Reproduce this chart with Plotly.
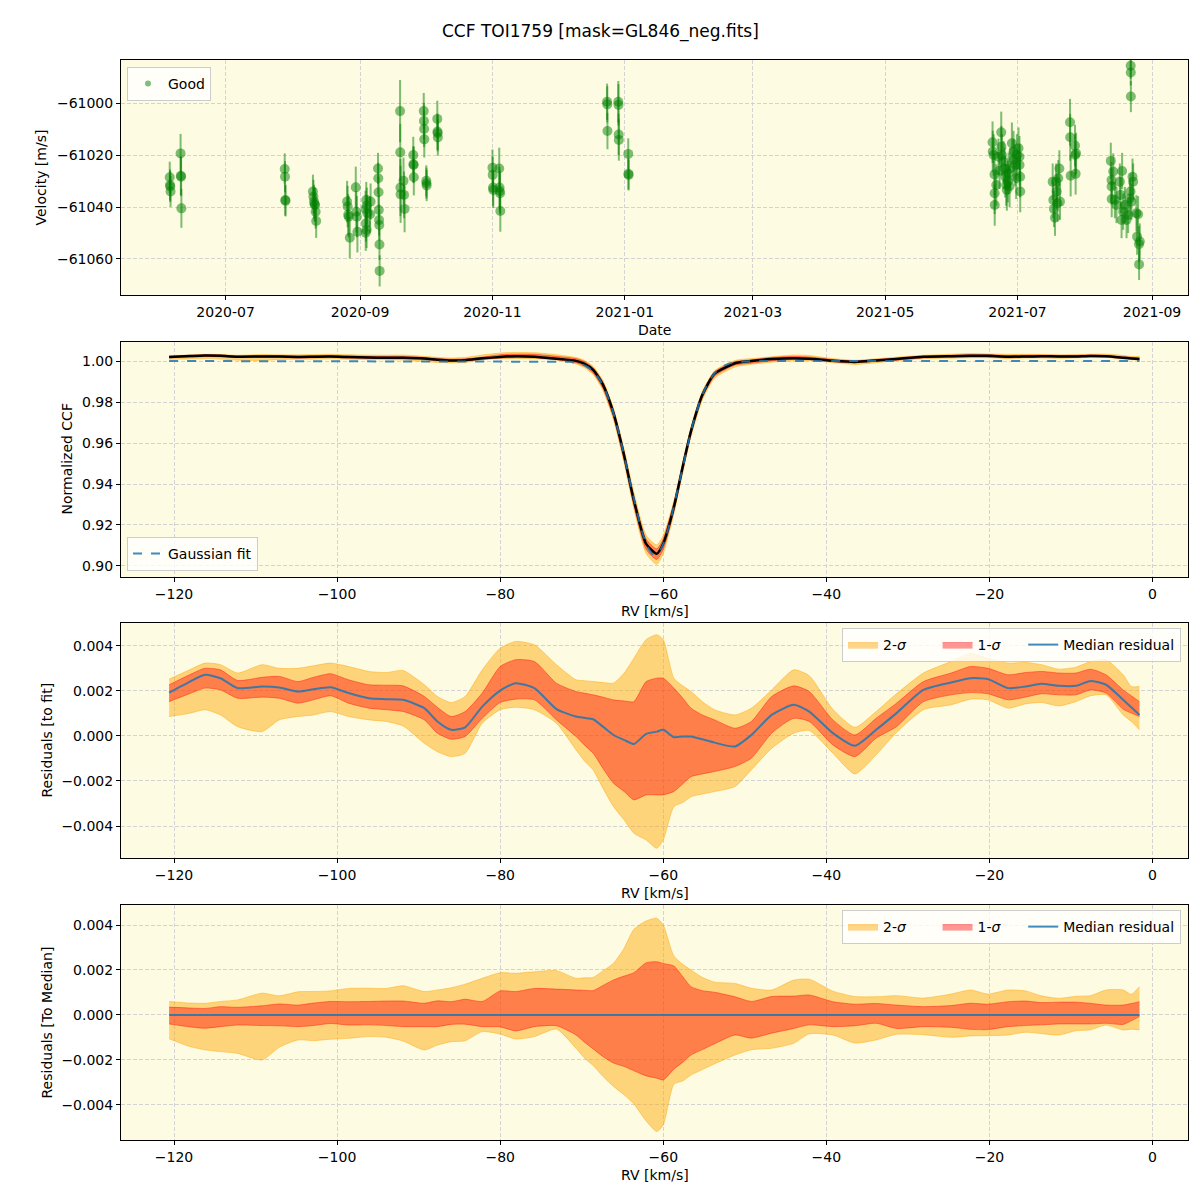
import numpy as np
import plotly.graph_objects as go
from plotly.subplots import make_subplots

# ---------------- Panel 1 : RV time series ----------------
obs_dates = [
    "2020-06-05 06:00", "2020-06-05 09:00", "2020-06-05 12:00", "2020-06-05 15:00",
    "2020-06-10 06:00", "2020-06-10 09:00", "2020-06-10 12:00", "2020-06-10 15:00",
    "2020-07-28 06:00", "2020-07-28 09:00", "2020-07-28 12:00", "2020-07-28 15:00",
    "2020-08-10 06:00", "2020-08-10 12:00", "2020-08-10 18:00", "2020-08-11 00:00",
    "2020-08-11 06:00", "2020-08-11 12:00", "2020-08-11 18:00",
    "2020-08-26 00:00", "2020-08-26 06:00", "2020-08-26 12:00", "2020-08-26 18:00",
    "2020-08-27 06:00", "2020-08-30 00:00", "2020-08-30 06:00", "2020-08-30 12:00",
    "2020-08-30 18:00",
    "2020-09-03 12:00", "2020-09-03 20:00", "2020-09-04 02:00", "2020-09-04 08:00",
    "2020-09-03 16:00", "2020-09-04 00:00", "2020-09-03 14:00", "2020-09-05 20:00",
    "2020-09-05 14:00",
    "2020-09-09 06:00", "2020-09-09 09:00", "2020-09-09 12:00", "2020-09-09 15:00",
    "2020-09-09 18:00", "2020-09-09 20:00", "2020-09-09 22:00", "2020-09-10 00:00",
    "2020-09-19 10:00", "2020-09-19 12:00", "2020-09-19 14:00", "2020-09-19 16:00",
    "2020-09-21 00:00", "2020-09-21 06:00", "2020-09-21 12:00",
    "2020-09-25 12:00", "2020-09-25 14:00", "2020-09-25 16:00", "2020-09-25 18:00",
    "2020-09-30 08:00", "2020-09-30 10:00", "2020-09-30 12:00", "2020-09-30 14:00",
    "2020-10-01 12:00", "2020-10-01 14:00", "2020-10-01 16:00",
    "2020-10-06 14:00", "2020-10-06 16:00", "2020-10-06 18:00", "2020-10-06 20:00",
    "2020-11-01 00:00", "2020-11-01 03:00", "2020-11-01 06:00", "2020-11-01 09:00",
    "2020-11-04 03:00", "2020-11-04 06:00", "2020-11-04 09:00", "2020-11-04 12:00",
    "2020-11-04 15:00",
    "2020-12-23 20:00", "2020-12-23 22:00", "2020-12-24 00:00",
    "2020-12-29 00:00", "2020-12-29 02:00", "2020-12-29 04:00", "2020-12-29 06:00",
    "2021-01-02 14:00", "2021-01-02 16:00", "2021-01-02 18:00",
    "2021-06-19 12:00", "2021-06-19 14:00", "2021-06-20 00:00", "2021-06-20 10:00",
    "2021-06-20 11:00", "2021-06-20 12:00", "2021-06-21 05:00", "2021-06-22 06:00",
    "2021-06-22 17:00", "2021-06-23 12:00", "2021-06-23 14:00", "2021-06-23 19:00",
    "2021-06-24 14:00", "2021-06-25 01:00", "2021-06-25 08:00", "2021-06-25 19:00",
    "2021-06-26 02:00", "2021-06-26 13:00", "2021-06-26 21:00", "2021-06-27 08:00",
    "2021-06-27 15:00", "2021-06-28 10:00", "2021-06-29 04:00", "2021-06-29 06:00",
    "2021-06-29 22:00", "2021-06-30 09:00", "2021-06-30 17:00", "2021-07-01 11:00",
    "2021-07-01 22:00", "2021-07-01 23:00", "2021-07-02 05:00", "2021-07-02 06:00",
    "2021-07-17 05:00", "2021-07-17 12:00", "2021-07-17 19:00", "2021-07-18 07:00",
    "2021-07-18 19:00", "2021-07-19 02:00", "2021-07-19 09:00", "2021-07-19 19:00",
    "2021-07-20 07:00", "2021-07-20 14:00",
    "2021-07-25 05:00", "2021-07-25 07:00", "2021-07-25 12:00", "2021-07-27 12:00",
    "2021-07-27 14:00", "2021-07-27 19:00", "2021-07-28 00:00",
    "2021-08-13 00:00", "2021-08-13 08:00", "2021-08-13 09:00", "2021-08-13 10:00",
    "2021-08-14 03:00", "2021-08-14 21:00", "2021-08-15 15:00", "2021-08-17 04:00",
    "2021-08-17 12:00", "2021-08-17 23:00", "2021-08-18 05:00", "2021-08-18 17:00",
    "2021-08-19 12:00", "2021-08-20 06:00", "2021-08-21 00:00", "2021-08-21 19:00",
    "2021-08-22 02:00", "2021-08-22 12:00", "2021-08-23 00:00", "2021-08-23 07:00",
    "2021-08-24 19:00", "2021-08-25 14:00", "2021-08-25 03:00", "2021-08-26 00:00",
    "2021-08-26 09:00", "2021-08-26 01:00",
    "2021-08-22 04:00", "2021-08-22 05:00", "2021-08-22 06:00",
]
obs_vel = [
    -61028.5, -61031.5, -61032.1, -61034.0,
    -61019.3, -61027.9, -61028.3, -61040.5,
    -61025.3, -61028.3, -61037.3, -61037.6,
    -61034.0, -61036.0, -61037.9, -61038.9,
    -61039.2, -61041.8, -61045.4,
    -61037.9, -61039.8, -61043.0, -61043.7,
    -61051.8, -61032.4, -61041.8, -61043.7,
    -61049.5,
    -61040.7, -61037.3, -61039.5, -61042.4,
    -61046.3, -61048.8, -61049.9, -61037.9,
    -61042.8,
    -61025.1, -61028.9, -61034.3, -61041.1,
    -61045.0, -61046.9, -61054.4, -61064.6,
    -61003.0, -61018.9, -61032.5, -61035.1,
    -61029.9, -61035.3, -61040.7,
    -61019.9, -61023.5, -61023.8, -61028.5,
    -61003.0, -61006.8, -61009.9, -61013.9,
    -61029.9, -61030.8, -61031.7,
    -61006.0, -61010.9, -61011.5, -61013.2,
    -61024.8, -61027.6, -61032.5, -61033.4,
    -61025.1, -61032.5, -61033.8, -61034.7,
    -61041.5,
    -60999.4, -61000.4, -61010.7,
    -60999.4, -61000.6, -61012.0, -61014.1,
    -61019.5, -61027.2, -61027.6,
    -61015.0, -61018.6, -61019.9, -61027.4,
    -61034.7, -61039.2, -61031.5, -61020.6,
    -61026.0, -61011.2, -61016.7, -61019.9,
    -61022.5, -61025.1, -61028.3, -61031.5,
    -61033.4, -61030.2, -61027.0, -61032.0,
    -61025.1, -61015.4, -61018.6, -61021.8,
    -61023.8, -61028.9, -61019.9, -61017.3,
    -61020.6, -61023.8, -61028.3, -61034.0,
    -61030.2, -61037.3, -61040.7, -61044.1,
    -61030.2, -61034.0, -61038.5, -61028.9,
    -61025.1, -61037.9,
    -61007.3, -61013.1, -61027.9, -61016.3,
    -61019.9, -61027.2, -61019.3,
    -61022.2, -61029.6, -61032.1, -61036.9,
    -61026.3, -61037.3, -61039.2, -61030.2,
    -61035.3, -61045.0, -61026.1, -61041.8,
    -61039.2, -61045.0, -61043.0, -61036.6,
    -61034.0, -61037.9, -61028.3, -61030.2,
    -61042.4, -61042.8, -61051.4, -61054.3,
    -61053.3, -61062.1,
    -60985.5, -60988.1, -60997.4,
]
obs_err = [
    6, 6, 6, 6,
    7.5, 7.5, 7.5, 7.5,
    6, 6, 6, 6,
    6.5, 6.5, 6.5, 6.5,
    6.5, 6.5, 6.5,
    8, 8, 8, 8,
    8, 8, 8, 8,
    8,
    7, 7, 7, 7,
    7, 7, 7, 7,
    7,
    6, 6, 6, 6,
    6, 6, 6, 6,
    12, 11, 11, 11,
    9, 9, 9,
    7, 7, 7, 7,
    7, 7, 7, 7,
    6, 6, 6,
    7, 7, 7, 7,
    7, 7, 7, 7,
    8, 8, 8, 8,
    8,
    7, 7, 7,
    8, 8, 8, 8,
    6, 6, 6,
    8, 8, 8, 8,
    8, 8, 8, 7,
    7, 8, 8, 8,
    8, 8, 8, 8,
    8, 8, 8, 8,
    8, 8, 8, 8,
    8, 8, 8, 8,
    8, 8, 8, 8,
    7, 7, 7, 7,
    7, 7, 7, 7,
    7, 7,
    9, 9, 8, 8,
    8, 8, 8,
    7, 7, 7, 7,
    7, 7, 7, 7,
    7, 7, 7, 7,
    7, 7, 7, 7,
    7, 7, 7, 7,
    7, 7, 7, 7,
    7, 6,
    5, 5, 6,
]

# ---------------- CCF residual statistics (panels 2-4) ----------------
rv = [-120.6, -118.1, -116.2, -114.3, -112.2, -109.2, -107.1, -104.8, -102.9, -100.8,
      -98.6, -96.1, -94.0, -91.9, -89.3, -87.7, -86.0, -84.3, -82.2, -80.0,
      -78.1, -75.8, -73.1, -70.7, -69.7, -68.6, -67.4, -66.1, -64.8, -63.6,
      -62.1, -60.8, -60.0, -58.7, -57.6, -56.6, -55.2, -53.7, -51.2, -49.2,
      -46.7, -44.0, -42.1, -39.2, -36.5, -33.9, -31.4, -28.1, -24.7, -22.3,
      -20.2, -17.7, -15.6, -13.6, -11.5, -9.4, -7.6, -5.7, -3.6, -2.6, -1.6]
res_median = [0.00192, 0.0024, 0.00271, 0.00256, 0.00212, 0.00219, 0.00215, 0.00197, 0.00207, 0.00216,
              0.0019, 0.00167, 0.00163, 0.0016, 0.00123, 0.00064, 0.00027, 0.00038, 0.0013, 0.00201,
              0.00234, 0.00212, 0.00119, 0.00086, 0.0008, 0.00074, 0.00041, 0.00004, -0.00018, -0.00036,
              0.00009, 0.00019, 0.00027, -0.00006, -0.00003, -0.00003, -0.00015, -0.0003, -0.00047, 0.00004,
              0.00093, 0.00138, 0.00108, 0.00012, -0.00044, 0.00027, 0.00101, 0.00204, 0.00237, 0.00256,
              0.00252, 0.00212, 0.00219, 0.00231, 0.00222, 0.00222, 0.00244, 0.00227, 0.0016, 0.00127, 0.00093]
res_1s_lo = [0.00152, 0.00187, 0.00212, 0.00204, 0.00167, 0.00172, 0.00167, 0.00145, 0.0016, 0.00178,
             0.00145, 0.00123, 0.00116, 0.00108, 0.00071, 0.00012, -0.00015, -0.00003, 0.00078, 0.00148,
             0.00163, 0.0016, 0.00071, -0.00003, -0.0004, -0.00077, -0.00144, -0.0021, -0.00247, -0.00284,
             -0.00262, -0.00262, -0.00262, -0.00247, -0.00213, -0.00181, -0.00169, -0.00158, -0.00136, -0.00099,
             0.00012, 0.00078, 0.00064, -0.0004, -0.00092, -0.0001, 0.00041, 0.00152, 0.00182, 0.00192,
             0.00187, 0.0016, 0.00172, 0.00187, 0.00182, 0.00182, 0.00204, 0.0019, 0.00118, 0.00101, 0.00086]
res_1s_hi = [0.00227, 0.00271, 0.003, 0.00293, 0.00246, 0.0026, 0.00264, 0.00241, 0.0026, 0.00276,
             0.00249, 0.00227, 0.00225, 0.00222, 0.00175, 0.00127, 0.00086, 0.00108, 0.0019, 0.00308,
             0.00338, 0.0033, 0.00234, 0.00197, 0.0019, 0.00182, 0.00172, 0.0016, 0.00155, 0.00152,
             0.00241, 0.00256, 0.00256, 0.00212, 0.00167, 0.00123, 0.00093, 0.00071, 0.00034, 0.00064,
             0.00175, 0.00222, 0.00197, 0.00071, 0.00004, 0.00078, 0.00145, 0.00241, 0.00279, 0.00308,
             0.003, 0.00271, 0.00281, 0.00286, 0.00279, 0.00279, 0.00296, 0.00271, 0.00204, 0.00178, 0.00152]
res_2s_lo = [0.00086, 0.001, 0.00116, 0.00093, 0.00041, 0.00019, 0.00071, 0.00086, 0.00093, 0.00108,
             0.00086, 0.00071, 0.00064, 0.00044, -0.00033, -0.0007, -0.00092, -0.00077, 0.00056, 0.00116,
             0.00127, 0.00116, 0.00056, -0.00062, -0.0011, -0.00151, -0.00232, -0.00314, -0.00373, -0.00432,
             -0.00462, -0.00499, -0.00462, -0.00314, -0.00296, -0.0027, -0.00258, -0.00247, -0.00225, -0.00151,
             -0.00055, 0.00012, 0.00024, -0.00077, -0.00169, -0.00084, 0.00015, 0.00116, 0.00138, 0.00163,
             0.0016, 0.00123, 0.00142, 0.00148, 0.00133, 0.00152, 0.00178, 0.00182, 0.00093, 0.00064, 0.00027]
res_2s_hi = [0.00252, 0.00293, 0.00323, 0.00316, 0.00279, 0.00316, 0.003, 0.003, 0.00311, 0.00323,
             0.00308, 0.00286, 0.00281, 0.0029, 0.00227, 0.00175, 0.00148, 0.00175, 0.00293, 0.00389,
             0.00419, 0.00404, 0.00316, 0.00249, 0.00245, 0.00241, 0.00237, 0.00234, 0.00279, 0.00345,
             0.00427, 0.00449, 0.00427, 0.00256, 0.00222, 0.00197, 0.00152, 0.00116, 0.00093, 0.00123,
             0.00204, 0.00293, 0.00267, 0.00118, 0.00038, 0.00108, 0.00187, 0.00279, 0.0033, 0.00367,
             0.00345, 0.00323, 0.00326, 0.00316, 0.00296, 0.00305, 0.0033, 0.00338, 0.00271, 0.00219, 0.00219]

# Gaussian fit parameters
FIT_CONT = 1.0
FIT_DEPTH = 0.0945
FIT_CENTER = -61.05
FIT_SIGMA = 3.12

# tick labels
p1_yticks = [-61060, -61040, -61020, -61000]
p1_yticktext = ["\u221261060", "\u221261040", "\u221261020", "\u221261000"]
p1_xticks = ["2020-07-01", "2020-09-01", "2020-11-01", "2021-01-01", "2021-03-01",
             "2021-05-01", "2021-07-01", "2021-09-01"]
p1_xticktext = ["2020-07", "2020-09", "2020-11", "2021-01", "2021-03", "2021-05", "2021-07", "2021-09"]
rv_ticks = [-120, -100, -80, -60, -40, -20, 0]
rv_ticktext = ["\u2212120", "\u2212100", "\u221280", "\u221260", "\u221240", "\u221220", "0"]
ccf_ticks = [0.90, 0.92, 0.94, 0.96, 0.98, 1.00]
ccf_ticktext = ["0.90", "0.92", "0.94", "0.96", "0.98", "1.00"]
res_ticks = [-0.004, -0.002, 0.0, 0.002, 0.004]
res_ticktext = ["\u22120.004", "\u22120.002", "0.000", "0.002", "0.004"]

# ---------------- derived arrays ----------------
rv_a = np.array(rv)
med = np.array(res_median)
s1lo, s1hi = np.array(res_1s_lo), np.array(res_1s_hi)
s2lo, s2hi = np.array(res_2s_lo), np.array(res_2s_hi)


def gauss_fit(x):
    x = np.asarray(x, dtype=float)
    return FIT_CONT - FIT_DEPTH * np.exp(-0.5 * ((x - FIT_CENTER) / FIT_SIGMA) ** 2)


fit_on_grid = gauss_fit(rv_a)
rv_fine = np.linspace(rv_a[0], rv_a[-1], 800)
fit_fine = gauss_fit(rv_fine)

C2 = "rgba(255,165,0,0.45)"
C1 = "rgba(255,0,0,0.40)"
BLUE = "rgba(31,119,180,0.85)"
FONT = "DejaVu Sans"
NB = "\u00a0"

# page geometry: the page body has an 8px margin
OFF = 8
W = 1192


def fx(p):
    return (p - OFF) / W


def fy(p):
    return 1 - (p - OFF) / W


fig = make_subplots(rows=4, cols=1)

# ---- panel 1
fig.add_trace(go.Scatter(
    x=obs_dates, y=obs_vel, mode="markers",
    marker=dict(size=10, color="rgba(0,128,0,0.5)", line=dict(width=0)),
    error_y=dict(type="data", array=obs_err, color="rgba(0,128,0,0.5)", thickness=2, width=0),
    showlegend=False, hoverinfo="x+y"), row=1, col=1)
fig.add_trace(go.Scatter(
    x=[None], y=[None], mode="markers", name="Good",
    marker=dict(size=6, color="rgba(0,128,0,0.5)"), legend="legend"), row=1, col=1)


def add_bands(row, x, lo2, hi2, lo1, hi1, legend, show):
    kw = dict(mode="lines", line_shape="spline")
    fig.add_trace(go.Scatter(x=x, y=lo2, line=dict(color=C2, width=1, smoothing=0.6),
                             showlegend=False, hoverinfo="skip", **kw), row=row, col=1)
    fig.add_trace(go.Scatter(x=x, y=hi2, line=dict(color=C2, width=1, smoothing=0.6),
                             fill="tonexty", fillcolor=C2, name="2-<i>\u03c3</i>" + NB * 6,
                             showlegend=show, legend=legend, hoverinfo="skip", **kw), row=row, col=1)
    fig.add_trace(go.Scatter(x=x, y=lo1, line=dict(color=C1, width=1, smoothing=0.6),
                             showlegend=False, hoverinfo="skip", **kw), row=row, col=1)
    fig.add_trace(go.Scatter(x=x, y=hi1, line=dict(color=C1, width=1, smoothing=0.6),
                             fill="tonexty", fillcolor=C1, name="1-<i>\u03c3</i>" + NB * 4,
                             showlegend=show, legend=legend, hoverinfo="skip", **kw), row=row, col=1)


# ---- panel 2
add_bands(2, rv, fit_on_grid + s2lo, fit_on_grid + s2hi, fit_on_grid + s1lo, fit_on_grid + s1hi,
          "legend2", False)
fig.add_trace(go.Scatter(x=rv, y=fit_on_grid + med, mode="lines", line_shape="spline",
                         line=dict(color="black", width=2.5, smoothing=0.6), showlegend=False),
              row=2, col=1)
fig.add_trace(go.Scatter(x=rv_fine, y=fit_fine, mode="lines", name="Gaussian fit",
                         line=dict(color=BLUE, width=2, dash="dash"), legend="legend2"),
              row=2, col=1)

# ---- panel 3
add_bands(3, rv, s2lo, s2hi, s1lo, s1hi, "legend3", True)
fig.add_trace(go.Scatter(x=rv, y=med, mode="lines", line_shape="spline", name="Median residual",
                         line=dict(color=BLUE, width=2, smoothing=0.6), legend="legend3"), row=3, col=1)

# ---- panel 4
add_bands(4, rv, s2lo - med, s2hi - med, s1lo - med, s1hi - med, "legend4", True)
fig.add_trace(go.Scatter(x=rv, y=med - med, mode="lines", name="Median residual",
                         line=dict(color=BLUE, width=2), legend="legend4"), row=4, col=1)

axis_common = dict(showline=True, mirror=True, linecolor="black", linewidth=1,
                   ticks="outside", ticklen=4, tickwidth=1, tickcolor="black",
                   showgrid=True, gridcolor="#d3d3d3", griddash="4px,2px", gridwidth=1,
                   zeroline=False, tickfont=dict(size=14, color="black", family=FONT))

XD = [fx(121), fx(1188)]


def ydom(top, bot):
    return [fy(bot), fy(top)]


fig.update_layout(
    xaxis=dict(domain=XD, type="date", range=["2020-05-13 19:00", "2021-09-17 14:00"],
               tickvals=p1_xticks, ticktext=p1_xticktext, **axis_common),
    yaxis=dict(domain=ydom(60, 295), range=[-61073.9, -60983.3],
               tickvals=p1_yticks, ticktext=p1_yticktext, **axis_common),
    xaxis2=dict(domain=XD, range=[-126.5, 4.35], tickvals=rv_ticks, ticktext=rv_ticktext, **axis_common),
    yaxis2=dict(domain=ydom(342, 577), range=[0.89463, 1.00927],
                tickvals=ccf_ticks, ticktext=ccf_ticktext, **axis_common),
    xaxis3=dict(domain=XD, range=[-126.5, 4.35], tickvals=rv_ticks, ticktext=rv_ticktext, **axis_common),
    yaxis3=dict(domain=ydom(623, 858), range=[-0.00542, 0.00501],
                tickvals=res_ticks, ticktext=res_ticktext, **axis_common),
    xaxis4=dict(domain=XD, range=[-126.5, 4.35], tickvals=rv_ticks, ticktext=rv_ticktext, **axis_common),
    yaxis4=dict(domain=ydom(905, 1140), range=[-0.00556, 0.00489],
                tickvals=res_ticks, ticktext=res_ticktext, **axis_common),
)

legend_common = dict(bgcolor="rgba(255,255,255,0.8)", bordercolor="#cccccc", borderwidth=1,
                     font=dict(size=14, color="black", family=FONT), traceorder="normal")
fig.update_layout(
    legend=dict(x=fx(127), y=fy(67), xanchor="left", yanchor="top", **legend_common),
    legend2=dict(x=fx(127), y=fy(571), xanchor="left", yanchor="bottom", **legend_common),
    legend3=dict(x=fx(1181), y=fy(628), xanchor="right", yanchor="top",
                 orientation="h", **legend_common),
    legend4=dict(x=fx(1181), y=fy(910), xanchor="right", yanchor="top",
                 orientation="h", **legend_common),
)

annos = [
    dict(text="CCF TOI1759 [mask=GL846_neg.fits]", x=600, y=32, size=17, angle=0),
    dict(text="Velocity [m/s]", x=41, y=177.5, size=14, angle=-90),
    dict(text="Date", x=654.5, y=330, size=14, angle=0),
    dict(text="Normalized CCF", x=66, y=459.5, size=14, angle=-90),
    dict(text="RV [km/s]", x=654.5, y=611, size=14, angle=0),
    dict(text="Residuals [to fit]", x=46, y=740.5, size=14, angle=-90),
    dict(text="RV [km/s]", x=654.5, y=893, size=14, angle=0),
    dict(text="Residuals [To Median]", x=46, y=1022.5, size=14, angle=-90),
    dict(text="RV [km/s]", x=654.5, y=1175, size=14, angle=0),
]
for a in annos:
    fig.add_annotation(text=a["text"], x=fx(a["x"]), y=fy(a["y"]), xref="paper", yref="paper",
                       xanchor="center", yanchor="middle", showarrow=False, textangle=a["angle"],
                       font=dict(size=a["size"], color="black", family=FONT))

fig.update_layout(width=W, height=W, margin=dict(l=0, r=0, t=0, b=0),
                  paper_bgcolor="white", plot_bgcolor="#fdfbe1",
                  font=dict(family=FONT, size=14, color="black"))

fig.write_html("out.html")
